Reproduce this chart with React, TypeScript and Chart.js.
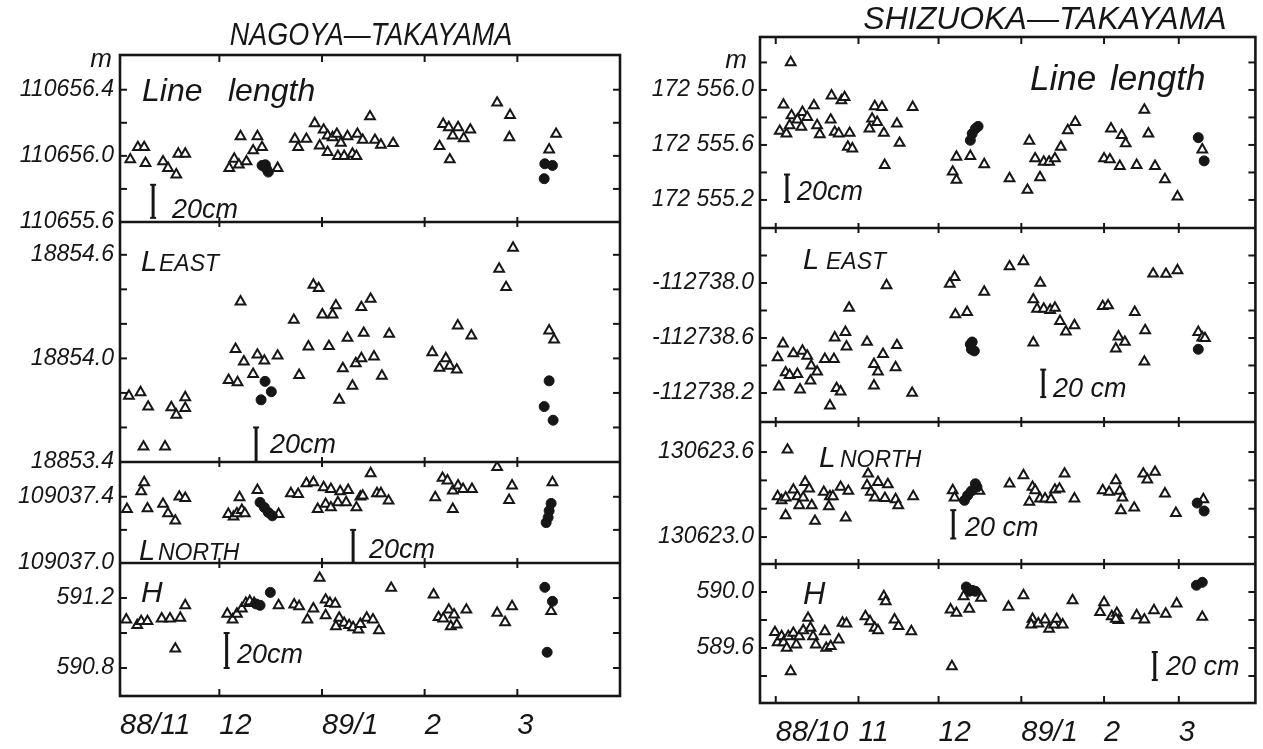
import React, { useEffect, useRef } from "react";
import { Chart, registerables } from "chart.js";

Chart.register(...registerables);

type Pt = [number, number];

// ---------------- x axis: days counted from the first month tick ----------------
const NT_X_TICKS = [0, 30, 61, 92, 120];
const NT_X_LABELS = ["88/11", "12", "89/1", "2", "3"];
const ST_X_TICKS = [0, 31, 61, 92, 123, 151];
const ST_X_LABELS = ["88/10", "11", "12", "89/1", "2", "3"];

// ---------------- NAGOYA - TAKAYAMA ----------------
const NT_LEN_TICKS = [110655.6, 110655.8, 110656.0, 110656.2, 110656.4];
const NT_LEN_LABELS = ["110655.6", "", "110656.0", "", "110656.4"];
const NT_LEN_TRI: Pt[] = [
  [3.1, 110655.978], [5.4, 110656.052], [7.3, 110656.052], [7.7, 110655.956], [13.0, 110655.966],
  [14.5, 110655.926], [17.0, 110655.886], [17.6, 110656.012], [19.7, 110656.012],
  [33.0, 110655.926], [34.5, 110655.982], [35.9, 110655.946], [38.2, 110655.966], [36.4, 110656.118],
  [41.5, 110656.118], [40.2, 110656.032], [42.9, 110656.052], [47.6, 110655.926],
  [52.8, 110656.102], [53.8, 110656.052], [56.3, 110656.102], [58.8, 110656.196], [60.3, 110656.062],
  [61.5, 110656.158], [62.7, 110656.022], [62.7, 110656.122], [64.2, 110656.112], [65.5, 110656.132],
  [66.7, 110656.078], [65.8, 110655.998], [67.7, 110655.998], [68.7, 110656.118], [70.2, 110656.012],
  [71.4, 110655.998], [71.7, 110656.132], [73.3, 110656.096], [75.5, 110656.238], [77.0, 110656.096],
  [78.8, 110656.066], [82.5, 110656.076],
  [96.5, 110656.058], [97.6, 110656.192], [99.3, 110656.172], [100.5, 110656.122], [102.1, 110656.172],
  [103.8, 110656.106], [105.8, 110656.158], [99.6, 110655.978],
  [113.9, 110656.321], [117.8, 110656.246], [117.6, 110656.112], [129.6, 110656.038], [131.7, 110656.132],
];
const NT_LEN_DOT: Pt[] = [
  [42.9, 110655.942], [44.2, 110655.922], [44.8, 110655.902], [43.9, 110655.946],
  [128.3, 110655.952], [130.6, 110655.942], [128.1, 110655.862],
];

const NT_EAST_TICKS = [18853.4, 18853.6, 18853.8, 18854.0, 18854.2, 18854.4, 18854.6];
const NT_EAST_LABELS = ["18853.4", "", "", "18854.0", "", "", "18854.6"];
const NT_EAST_TRI: Pt[] = [
  [2.7, 18853.783], [6.2, 18853.803], [8.5, 18853.72], [7.1, 18853.488], [13.6, 18853.489],
  [15.5, 18853.716], [17.0, 18853.673], [19.7, 18853.774], [19.7, 18853.712],
  [36.4, 18854.329], [32.8, 18853.874], [35.5, 18853.861], [34.9, 18854.054], [37.4, 18853.981],
  [40.2, 18853.909], [41.5, 18854.021], [43.6, 18853.986], [47.6, 18854.015],
  [52.5, 18854.222], [54.1, 18853.903], [56.9, 18854.068], [58.4, 18854.426], [60.0, 18854.406],
  [61.1, 18854.253], [64.2, 18854.253], [65.2, 18854.306], [63.1, 18854.07], [66.2, 18853.76],
  [67.3, 18853.942], [68.7, 18854.118], [70.2, 18853.841], [71.2, 18853.971], [72.9, 18854.0],
  [72.9, 18854.296], [75.7, 18854.344], [73.6, 18854.147], [76.7, 18854.01], [79.1, 18853.899],
  [81.3, 18854.141],
  [94.3, 18854.035], [96.5, 18853.944], [98.4, 18854.0], [99.6, 18853.957], [101.7, 18853.934],
  [102.0, 18854.19], [106.1, 18854.132],
  [114.5, 18854.518], [116.6, 18854.412], [118.7, 18854.64], [129.6, 18854.161], [131.1, 18854.108],
];
const NT_EAST_DOT: Pt[] = [
  [43.8, 18853.867], [45.7, 18853.807], [42.6, 18853.76],
  [129.6, 18853.87], [128.1, 18853.721], [130.8, 18853.642],
];

const NT_NORTH_TICKS = [109037.0, 109037.2, 109037.4];
const NT_NORTH_LABELS = ["109037.0", "", "109037.4"];
const NT_NORTH_TRI: Pt[] = [
  [2.1, 109037.325], [6.4, 109037.432], [7.3, 109037.487], [8.3, 109037.329], [13.0, 109037.356],
  [14.5, 109037.299], [16.7, 109037.255], [17.9, 109037.4], [19.7, 109037.392],
  [32.7, 109037.295], [34.3, 109037.279], [35.3, 109037.299], [36.8, 109037.319], [37.7, 109037.299],
  [36.1, 109037.396], [41.5, 109037.44], [47.9, 109037.295],
  [51.6, 109037.42], [53.8, 109037.416], [56.3, 109037.481], [58.4, 109037.487], [59.7, 109037.325],
  [61.5, 109037.457], [62.1, 109037.356], [63.7, 109037.446], [63.7, 109037.335], [65.8, 109037.366],
  [66.5, 109037.432], [68.3, 109037.366], [68.9, 109037.44], [71.4, 109037.335], [72.6, 109037.4],
  [73.3, 109037.406], [75.7, 109037.541], [77.6, 109037.42], [78.8, 109037.42], [81.1, 109037.376],
  [95.2, 109037.396], [97.4, 109037.513], [98.9, 109037.497], [100.5, 109037.436], [102.1, 109037.467],
  [103.6, 109037.446], [106.3, 109037.446], [100.5, 109037.325],
  [113.9, 109037.578], [117.5, 109037.38], [118.4, 109037.467], [130.6, 109037.487],
];
const NT_NORTH_DOT: Pt[] = [
  [42.3, 109037.366], [43.6, 109037.335], [44.8, 109037.305], [46.0, 109037.285],
  [130.2, 109037.36], [129.6, 109037.315], [129.3, 109037.275], [128.7, 109037.244],
];

const NT_H_TICKS = [590.8, 591.0, 591.2];
const NT_H_LABELS = ["590.8", "", "591.2"];
const NT_H_TRI: Pt[] = [
  [1.9, 591.076], [5.2, 591.044], [6.4, 591.067], [8.3, 591.067], [12.6, 591.082], [15.1, 591.082],
  [18.2, 591.086], [19.7, 591.158], [16.7, 590.91],
  [32.4, 591.109], [34.0, 591.076], [35.3, 591.109], [36.8, 591.139], [38.0, 591.171], [39.2, 591.181],
  [40.5, 591.171], [47.9, 591.158],
  [52.6, 591.162], [54.1, 591.152], [56.6, 591.076], [58.4, 591.139], [60.3, 591.314], [62.1, 591.101],
  [62.1, 591.19], [63.4, 591.171], [65.0, 591.166], [66.2, 591.086], [65.2, 591.038], [67.7, 591.057],
  [69.2, 591.044], [70.4, 591.032], [72.0, 591.019], [72.6, 591.051], [74.5, 591.086], [76.4, 591.076],
  [78.2, 591.015], [81.9, 591.257],
  [94.7, 591.219], [96.2, 591.09], [97.6, 591.082], [99.3, 591.133], [99.9, 591.038], [100.9, 591.105],
  [101.7, 591.048], [104.6, 591.133],
  [113.9, 591.114], [116.3, 591.061], [118.4, 591.152], [130.2, 591.124],
];
const NT_H_DOT: Pt[] = [
  [41.1, 591.166], [42.3, 591.158], [45.4, 591.232],
  [128.3, 591.261], [130.6, 591.181], [129.0, 590.89],
];

// ---------------- SHIZUOKA - TAKAYAMA ----------------
const ST_LEN_TICKS = [172555.2, 172555.4, 172555.6, 172555.8, 172556.0, 172556.2];
const ST_LEN_LABELS = ["172 555.2", "", "172 555.6", "", "172 556.0", ""];
const ST_LEN_TRI: Pt[] = [
  [1.5, 172555.701], [4.0, 172555.682], [2.9, 172555.892], [5.9, 172555.814], [5.2, 172555.742],
  [5.6, 172556.2], [8.1, 172555.783], [9.6, 172555.73], [10.0, 172555.839], [11.8, 172555.802],
  [14.3, 172555.887], [15.5, 172555.742], [16.5, 172555.677], [20.6, 172555.783], [20.9, 172555.959],
  [22.1, 172555.694], [23.6, 172555.682], [24.6, 172555.923], [25.8, 172555.947], [27.7, 172555.687],
  [27.0, 172555.586], [28.7, 172555.573],
  [35.1, 172555.718], [36.1, 172555.79], [37.1, 172555.88], [38.0, 172555.766], [39.8, 172555.875],
  [40.5, 172555.687], [40.8, 172555.453], [45.4, 172555.754], [46.4, 172555.614], [51.3, 172555.875],
  [66.3, 172555.405], [67.7, 172555.345], [67.7, 172555.513], [72.9, 172555.518], [78.1, 172555.458],
  [87.6, 172555.357], [94.3, 172555.272], [95.0, 172555.629], [97.2, 172555.501], [99.0, 172555.364],
  [100.4, 172555.477], [102.4, 172555.477], [104.6, 172555.501], [106.8, 172555.586], [109.4, 172555.706],
  [112.2, 172555.766],
  [123.0, 172555.501], [125.2, 172555.494], [125.6, 172555.718], [128.9, 172555.446], [129.6, 172555.67],
  [131.1, 172555.61], [135.2, 172555.453], [138.1, 172555.855], [139.6, 172555.682], [142.1, 172555.446],
  [145.8, 172555.349], [150.5, 172555.224], [159.8, 172555.566],
];
const ST_LEN_DOT: Pt[] = [
  [72.9, 172555.634], [73.6, 172555.682], [74.8, 172555.718], [75.8, 172555.735],
  [158.3, 172555.653], [160.5, 172555.484],
];

const ST_EAST_TICKS = [-112738.8, -112738.6, -112738.4, -112738.2, -112738.0, -112737.8];
const ST_EAST_LABELS = ["-112738.2", "", "-112738.6", "", "-112738.0", ""];
const ST_EAST_TRI: Pt[] = [
  [0.7, -112738.542], [2.7, -112738.441], [1.2, -112738.754], [3.7, -112738.651], [5.2, -112738.67],
  [6.6, -112738.513], [8.1, -112738.663], [9.1, -112738.776], [10.0, -112738.494], [11.8, -112738.53],
  [13.0, -112738.711], [13.3, -112738.602], [15.5, -112738.646], [18.4, -112738.554], [21.8, -112738.554],
  [20.3, -112738.892], [22.8, -112738.766], [24.3, -112738.79], [22.1, -112738.398], [26.1, -112738.357],
  [26.5, -112738.463], [27.5, -112738.181],
  [34.2, -112738.429], [36.8, -112738.747], [36.8, -112738.59], [38.3, -112738.646], [40.2, -112738.518],
  [41.5, -112738.017], [45.4, -112738.453], [44.9, -112738.614], [51.1, -112738.8],
  [65.2, -112738.007], [67.0, -112737.957], [67.3, -112738.229], [71.7, -112738.212], [78.1, -112738.065],
  [87.6, -112737.88], [92.8, -112737.843], [96.5, -112738.434], [99.1, -112738.0], [96.5, -112738.12],
  [97.9, -112738.188], [100.4, -112738.188], [102.8, -112738.198], [104.6, -112738.181], [106.5, -112738.277],
  [108.7, -112738.354], [111.9, -112738.308],
  [122.5, -112738.169], [124.5, -112738.164], [127.4, -112738.477], [128.4, -112738.39], [130.8, -112738.429],
  [134.5, -112738.212], [138.1, -112738.573], [138.4, -112738.345], [141.4, -112737.933], [146.2, -112737.935],
  [150.5, -112737.908], [158.3, -112738.357], [159.8, -112738.398], [160.8, -112738.402],
];
const ST_EAST_DOT: Pt[] = [
  [72.9, -112738.446], [73.3, -112738.482], [74.4, -112738.494], [73.6, -112738.429],
  [158.3, -112738.482],
];

const ST_NORTH_TICKS = [130623.0, 130623.2, 130623.4, 130623.6];
const ST_NORTH_LABELS = ["130623.0", "", "", "130623.6"];
const ST_NORTH_TRI: Pt[] = [
  [4.4, 130623.616], [0.7, 130623.287], [2.2, 130623.259], [3.7, 130623.278], [3.7, 130623.153],
  [6.6, 130623.334], [8.1, 130623.287], [8.8, 130623.224], [10.3, 130623.278], [11.0, 130623.388],
  [12.5, 130623.341], [13.5, 130623.224], [14.7, 130623.113], [18.0, 130623.318], [19.9, 130623.216],
  [20.3, 130623.287], [21.4, 130623.287], [24.3, 130623.353], [26.2, 130623.136], [27.2, 130623.325],
  [34.6, 130623.447], [34.2, 130623.365], [35.6, 130623.318], [37.1, 130623.278], [38.3, 130623.388],
  [40.9, 130623.275], [42.0, 130623.372], [44.9, 130623.266], [45.9, 130623.224], [51.5, 130623.287],
  [66.3, 130623.329], [67.0, 130623.278], [76.3, 130623.325],
  [87.6, 130623.376], [92.8, 130623.435], [95.0, 130623.247], [96.2, 130623.353], [97.2, 130623.329],
  [99.0, 130623.271], [100.9, 130623.271], [103.1, 130623.266], [104.6, 130623.334], [106.3, 130623.341],
  [108.2, 130623.447], [111.9, 130623.271],
  [122.5, 130623.329], [124.9, 130623.318], [127.4, 130623.4], [128.9, 130623.325], [129.9, 130623.278],
  [129.3, 130623.188], [134.3, 130623.207], [137.7, 130623.447], [139.2, 130623.405], [142.1, 130623.459],
  [145.8, 130623.306], [149.9, 130623.169], [160.2, 130623.266],
];
const ST_NORTH_DOT: Pt[] = [
  [70.7, 130623.259], [71.9, 130623.294], [73.3, 130623.325], [74.8, 130623.376], [75.4, 130623.353],
  [157.9, 130623.24], [160.5, 130623.184],
];

const ST_H_TICKS = [589.4, 589.6, 589.8, 590.0];
const ST_H_LABELS = ["", "589.6", "", "590.0"];
const ST_H_TRI: Pt[] = [
  [-0.3, 589.712], [0.7, 589.64], [2.2, 589.683], [2.9, 589.64], [4.1, 589.6], [4.7, 589.683],
  [5.6, 589.433], [6.6, 589.707], [7.7, 589.624], [8.8, 589.683], [10.3, 589.726], [12.1, 589.814],
  [13.0, 589.743], [14.0, 589.683], [15.0, 589.624], [18.4, 589.719], [18.9, 589.6], [20.6, 589.612],
  [23.6, 589.66], [25.0, 589.779], [26.5, 589.774],
  [33.6, 589.826], [35.3, 589.79], [37.1, 589.743], [38.3, 589.726], [40.5, 589.969], [41.2, 589.933],
  [44.5, 589.802], [46.0, 589.755], [50.8, 589.719],
  [66.0, 589.469], [65.5, 589.874], [67.7, 589.85], [72.5, 589.879], [70.4, 589.969], [76.9, 589.957],
  [87.2, 589.893], [92.8, 589.976], [96.2, 589.807], [95.7, 589.767], [98.4, 589.774], [100.9, 589.802],
  [102.4, 589.736], [104.3, 589.767], [105.3, 589.807], [107.5, 589.767], [111.2, 589.94],
  [123.0, 589.926], [121.5, 589.855], [125.9, 589.826], [127.8, 589.85], [128.4, 589.798], [127.4, 589.807],
  [135.2, 589.833], [138.1, 589.802], [141.7, 589.869], [146.1, 589.843], [150.2, 589.917], [159.8, 589.821],
];
const ST_H_DOT: Pt[] = [
  [71.4, 590.036], [72.5, 590.005], [73.6, 590.012], [74.8, 590.005], [72.2, 590.017],
  [157.6, 590.048], [159.8, 590.069],
];

// ---------------- layout / styling ----------------
const SANS = "'Liberation Sans', Arial, sans-serif";
const INK = "#161616";

interface Panel {
  id: string;
  min: number;
  max: number;
  weight: number;
  ticks: number[];
  labels: string[];
  tri: Pt[];
  dot: Pt[];
  bar: { x: number; y: number };
}
interface Txt { t: string; x: number; y: number; size: number; align?: CanvasTextAlign; sx?: number }
interface Column {
  key: string;
  left: number;
  width: number;
  xMin: number;
  xMax: number;
  xTicks: number[];
  xLabels: string[];
  yAxisWidth: number;
  xAxisHeight: number;
  xPad: number;
  padTop: number;
  padRight: number;
  panels: Panel[];
  texts: Txt[];
}

const NT: Column = {
  key: "nt",
  left: 0,
  width: 640,
  xMin: 0,
  xMax: 151,
  xTicks: NT_X_TICKS,
  xLabels: NT_X_LABELS,
  yAxisWidth: 120,
  xAxisHeight: 53,
  xPad: 13,
  padTop: 55,
  padRight: 20,
  panels: [
    { id: "ntLen", min: 110655.6, max: 110656.61, weight: 167, ticks: NT_LEN_TICKS, labels: NT_LEN_LABELS, tri: NT_LEN_TRI, dot: NT_LEN_DOT, bar: { x: 10, y: 110655.625 } },
    { id: "ntEast", min: 18853.4, max: 18854.79, weight: 240, ticks: NT_EAST_TICKS, labels: NT_EAST_LABELS, tri: NT_EAST_TRI, dot: NT_EAST_DOT, bar: { x: 41.1, y: 18853.4 } },
    { id: "ntNorth", min: 109037.0, max: 109037.61, weight: 101, ticks: NT_NORTH_TICKS, labels: NT_NORTH_LABELS, tri: NT_NORTH_TRI, dot: NT_NORTH_DOT, bar: { x: 70.4, y: 109037.0 } },
    { id: "ntH", min: 590.64, max: 591.4, weight: 133, ticks: NT_H_TICKS, labels: NT_H_LABELS, tri: NT_H_TRI, dot: NT_H_DOT, bar: { x: 32.2, y: 590.8 } },
  ],
  texts: [
    { t: "NAGOYA—TAKAYAMA", x: 371, y: 45, size: 31, align: "center", sx: 0.87 },
    { t: "m", x: 112, y: 67, size: 26, align: "right" },
    { t: "Line", x: 142, y: 101, size: 32 },
    { t: "length", x: 228, y: 101, size: 32 },
    { t: "20cm", x: 172, y: 218, size: 27 },
    { t: "L", x: 141, y: 271, size: 29 },
    { t: "EAST", x: 159, y: 271, size: 23 },
    { t: "20cm", x: 270, y: 453, size: 27 },
    { t: "L", x: 139, y: 560, size: 29 },
    { t: "NORTH", x: 158, y: 560, size: 23 },
    { t: "20cm", x: 369, y: 558, size: 27 },
    { t: "H", x: 141, y: 602, size: 30 },
    { t: "20cm", x: 237, y: 663, size: 27 },
  ],
};

const ST: Column = {
  key: "st",
  left: 640,
  width: 623,
  xMin: -5.9,
  xMax: 179.7,
  xTicks: ST_X_TICKS,
  xLabels: ST_X_LABELS,
  yAxisWidth: 120,
  xAxisHeight: 46,
  xPad: 13,
  padTop: 37,
  padRight: 6,
  panels: [
    { id: "stLen", min: 172554.996, max: 172556.385, weight: 191, ticks: ST_LEN_TICKS, labels: ST_LEN_LABELS, tri: ST_LEN_TRI, dot: ST_LEN_DOT, bar: { x: 4.2, y: 172555.185 } },
    { id: "stEast", min: -112739.011, max: -112737.6, weight: 194, ticks: ST_EAST_TICKS, labels: ST_EAST_LABELS, tri: ST_EAST_TRI, dot: ST_EAST_DOT, bar: { x: 100.2, y: -112738.83 } },
    { id: "stNorth", min: 130622.81, max: 130623.812, weight: 142, ticks: ST_NORTH_TICKS, labels: ST_NORTH_LABELS, tri: ST_NORTH_TRI, dot: ST_NORTH_DOT, bar: { x: 66.5, y: 130622.99 } },
    { id: "stH", min: 589.207, max: 590.2, weight: 139, ticks: ST_H_TICKS, labels: ST_H_LABELS, tri: ST_H_TRI, dot: ST_H_DOT, bar: { x: 142, y: 589.371 } },
  ],
  texts: [
    { t: "SHIZUOKA—TAKAYAMA", x: 405, y: 29, size: 32, align: "center" },
    { t: "m", x: 107, y: 68, size: 26, align: "right" },
    { t: "Line", x: 390, y: 90, size: 35 },
    { t: "length", x: 470, y: 90, size: 35 },
    { t: "20cm", x: 157, y: 200, size: 27 },
    { t: "L", x: 163, y: 269, size: 29 },
    { t: "EAST", x: 186, y: 269, size: 23 },
    { t: "20 cm", x: 413, y: 397, size: 27 },
    { t: "L", x: 179, y: 467, size: 30 },
    { t: "NORTH", x: 200, y: 467, size: 23 },
    { t: "20 cm", x: 325, y: 536, size: 27 },
    { t: "H", x: 163, y: 604, size: 31 },
    { t: "20 cm", x: 526, y: 675, size: 27 },
  ],
};

function makeFramePlugin(col: Column) {
  return {
    id: "frame_" + col.key,
    afterDraw(chart: any) {
      const ctx: CanvasRenderingContext2D = chart.ctx;
      const a = chart.chartArea;
      const xs = chart.scales.x;
      ctx.save();
      ctx.strokeStyle = INK;
      ctx.fillStyle = INK;
      ctx.lineCap = "butt";
      const line = (x1: number, y1: number, x2: number, y2: number, w = 2) => {
        ctx.lineWidth = w;
        ctx.beginPath();
        ctx.moveTo(x1, y1);
        ctx.lineTo(x2, y2);
        ctx.stroke();
      };
      // outer frame
      ctx.lineWidth = 2.6;
      ctx.strokeRect(a.left, a.top, a.right - a.left, a.bottom - a.top);
      // panel dividers
      const dividers: number[] = [];
      col.panels.forEach((p) => {
        const s = chart.scales[p.id];
        if (s.bottom < a.bottom - 2) dividers.push(s.bottom);
      });
      dividers.forEach((y) => line(a.left, y, a.right, y, 2.4));
      // y ticks (inward, both sides)
      col.panels.forEach((p) => {
        const s = chart.scales[p.id];
        s.ticks.forEach((t: any) => {
          const y = s.getPixelForValue(t.value);
          if (y < s.top + 2 || y > s.bottom - 2) return;
          line(a.left, y, a.left + 7, y, 2);
          line(a.right - 7, y, a.right, y, 2);
        });
      });
      // x ticks on top, bottom and across dividers
      xs.ticks.forEach((t: any) => {
        const x = xs.getPixelForValue(t.value);
        if (x < a.left + 3 || x > a.right - 3) return;
        line(x, a.top, x, a.top + 7, 2);
        line(x, a.bottom - 7, x, a.bottom, 2);
        dividers.forEach((y) => line(x, y - 5, x, y + 5, 2));
      });
      // 20 cm scale bars
      col.panels.forEach((p) => {
        const s = chart.scales[p.id];
        const x = xs.getPixelForValue(p.bar.x);
        const y0 = s.getPixelForValue(p.bar.y);
        const y1 = s.getPixelForValue(p.bar.y + 0.2);
        line(x, y0, x, y1, 3);
        line(x - 3, y0, x + 3, y0, 2);
        line(x - 3, y1, x + 3, y1, 2);
      });
      // texts
      col.texts.forEach((tx) => {
        ctx.save();
        ctx.font = `italic ${tx.size}px ${SANS}`;
        ctx.textAlign = tx.align || "left";
        ctx.textBaseline = "alphabetic";
        const sx = tx.sx || 1;
        ctx.translate(tx.x, tx.y);
        ctx.scale(sx, 1);
        ctx.fillText(tx.t, 0, 0);
        ctx.restore();
      });
      ctx.restore();
    },
  };
}

function buildConfig(col: Column): any {
  const scales: any = {
    x: {
      type: "linear",
      position: "bottom",
      min: col.xMin,
      max: col.xMax,
      bounds: "data",
      afterBuildTicks: (s: any) => {
        s.ticks = col.xTicks.map((v) => ({ value: v }));
      },
      afterFit: (s: any) => {
        s.height = col.xAxisHeight;
      },
      ticks: {
        autoSkip: false,
        maxRotation: 0,
        minRotation: 0,
        align: "start",
        padding: col.xPad,
        color: INK,
        font: { family: SANS, size: 29, style: "italic" },
        callback: (_v: any, i: number) => col.xLabels[i] ?? "",
      },
      grid: { display: false, drawTicks: false },
      border: { display: false },
    },
  };
  const datasets: any[] = [];
  col.panels.forEach((p, i) => {
    scales[p.id] = {
      type: "linear",
      position: "left",
      stack: col.key,
      stackWeight: p.weight,
      weight: 10 - i,
      min: p.min,
      max: p.max,
      bounds: "data",
      afterBuildTicks: (s: any) => {
        s.ticks = p.ticks.map((v) => ({ value: v }));
      },
      afterFit: (s: any) => {
        s.width = col.yAxisWidth;
      },
      ticks: {
        autoSkip: false,
        padding: 6,
        color: INK,
        font: { family: SANS, size: 23, style: "italic" },
        callback: (_v: any, idx: number) => p.labels[idx] ?? "",
      },
      grid: { display: false, drawTicks: false },
      border: { display: false },
    };
    datasets.push({
      label: p.id + " closed",
      data: p.dot.map(([x, y]) => ({ x, y })),
      xAxisID: "x",
      yAxisID: p.id,
      pointStyle: "circle",
      pointRadius: 5,
      pointBackgroundColor: INK,
      pointBorderColor: INK,
      pointBorderWidth: 1,
      showLine: false,
      order: 0,
    });
    datasets.push({
      label: p.id + " open",
      data: p.tri.map(([x, y]) => ({ x, y })),
      xAxisID: "x",
      yAxisID: p.id,
      pointStyle: "triangle",
      pointRadius: 5.6,
      pointBackgroundColor: "#ffffff",
      pointBorderColor: INK,
      pointBorderWidth: 2,
      showLine: false,
      order: 1,
    });
  });
  return {
    type: "scatter",
    data: { datasets },
    options: {
      animation: false,
      responsive: false,
      devicePixelRatio: 1,
      layout: { padding: { top: col.padTop, right: col.padRight, left: 0, bottom: 0 } },
      plugins: { legend: { display: false }, tooltip: { enabled: false }, title: { display: false } },
      scales,
    },
    plugins: [makeFramePlugin(col)],
  };
}

function ColumnChart({ col }: { col: Column }) {
  const ref = useRef<HTMLCanvasElement | null>(null);
  useEffect(() => {
    if (!ref.current) return;
    const chart = new Chart(ref.current, buildConfig(col));
    return () => chart.destroy();
  }, [col]);
  return (
    <canvas
      ref={ref}
      width={col.width}
      height={749}
      style={{ position: "absolute", left: col.left, top: 0, width: col.width, height: 749 }}
    />
  );
}

export default function App() {
  return (
    <div
      style={{
        position: "absolute",
        left: 0,
        top: 0,
        width: 1263,
        height: 749,
        background: "#ffffff",
        overflow: "hidden",
      }}
    >
      <ColumnChart col={NT} />
      <ColumnChart col={ST} />
    </div>
  );
}
